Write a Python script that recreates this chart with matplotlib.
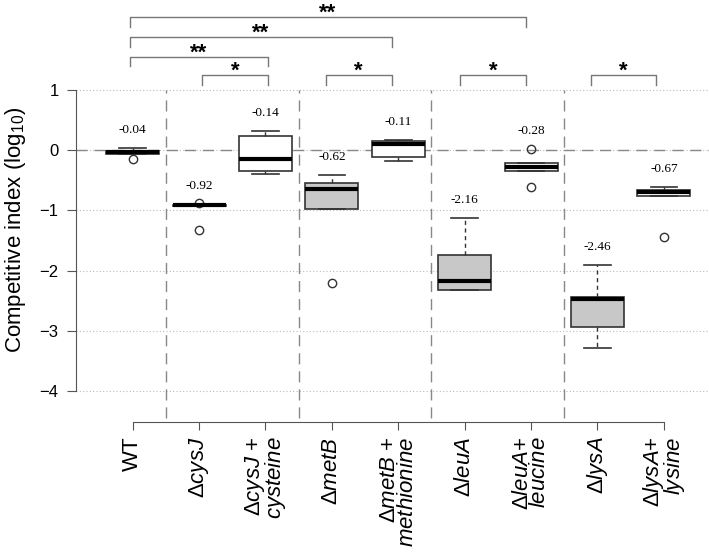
import matplotlib
matplotlib.use("Agg")
import matplotlib.pyplot as plt

plt.rcParams['font.family'] = ['Liberation Sans', 'DejaVu Sans']
plt.rcParams['mathtext.fontset'] = 'custom'
plt.rcParams['mathtext.rm'] = 'Liberation Sans'
plt.rcParams['mathtext.it'] = 'Liberation Sans:italic'
plt.rcParams['mathtext.bf'] = 'Liberation Sans:bold'

# categorias (cepas) y etiquetas del eje x
tick_labels = [
    "WT",
    "Δ$\\mathit{cysJ}$",
    "Δ$\\mathit{cysJ}$ +\n$\\mathit{cysteine}$",
    "Δ$\\mathit{metB}$",
    "Δ$\\mathit{metB}$ +\n$\\mathit{methionine}$",
    "Δ$\\mathit{leuA}$",
    "Δ$\\mathit{leuA}$+\n$\\mathit{leucine}$",
    "Δ$\\mathit{lysA}$",
    "Δ$\\mathit{lysA}$+\n$\\mathit{lysine}$",
]
mutant = [False, True, False, True, False, True, False, True, False]

# estadisticas de cada caja (log10 del indice competitivo)
medians = [-0.04, -0.92, -0.15, -0.64, 0.10, -2.17, -0.28, -2.47, -0.69]
q1 = [-0.07, -0.93, -0.34, -0.97, -0.12, -2.32, -0.35, -2.93, -0.76]
q3 = [-0.01, -0.91, 0.24, -0.54, 0.15, -1.74, -0.21, -2.44, -0.67]
whis_lo = [-0.07, -0.93, -0.39, -0.97, -0.18, -2.32, -0.35, -3.28, -0.76]
whis_hi = [0.04, -0.91, 0.32, -0.41, 0.17, -1.12, -0.21, -1.90, -0.61]
fliers = [[-0.15], [-0.88, -1.33], [], [-2.21], [], [], [0.02, -0.62], [], [-1.45]]
value_labels = ["-0.04", "-0.92", "-0.14", "-0.62", "-0.11", "-2.16", "-0.28", "-2.46", "-0.67"]

# comparaciones significativas: (izquierda, derecha, nivel, estrellas)
brackets = [
    (0.96, 6.92, 2.20, "**"),
    (0.96, 4.90, 1.87, "**"),
    (0.96, 3.04, 1.54, "**"),
    (2.05, 3.04, 1.24, "*"),
    (3.91, 4.90, 1.24, "*"),
    (5.93, 6.92, 1.24, "*"),
    (7.90, 8.88, 1.24, "*"),
]

positions = list(range(1, len(tick_labels) + 1))

fig = plt.figure(figsize=(7.09, 5.53), dpi=100)
ax = fig.add_axes([76 / 709, 1 - 422 / 553, 1 - 76 / 709, (422 - 88.5) / 553])
ax.set_xlim(0.146, 9.68)
ax.set_ylim(-4.51, 1.02)

# lineas de fondo
for yv in [1, 0, -1, -2, -3, -4]:
    ax.axhline(yv, color='#bbbbbb', linestyle=(0, (1, 2)), linewidth=0.8, zorder=0)
ax.axhline(0, color='#888888', linestyle=(0, (8, 5)), linewidth=1, zorder=0)
seps = [(positions[i] + positions[i + 1]) / 2 for i in [0, 2, 4, 6]]
ax.vlines(seps, -4.45, 1.0, colors='#888888', linestyles=[(0, (8, 5))], linewidth=1, zorder=0)

stats = []
for k in range(len(positions)):
    stats.append(dict(med=medians[k], q1=q1[k], q3=q3[k],
                      whislo=whis_lo[k], whishi=whis_hi[k], fliers=fliers[k]))

bp = ax.bxp(stats, positions=positions, widths=0.8, capwidths=0.4,
            patch_artist=True, showfliers=True,
            boxprops=dict(edgecolor='#333333', linewidth=1.2),
            whiskerprops=dict(color='#333333', linestyle=(0, (3, 2.5)), linewidth=1),
            capprops=dict(color='#333333', linewidth=1.2),
            medianprops=dict(color='black', linewidth=3, solid_capstyle='butt'),
            flierprops=dict(marker='o', markerfacecolor='none', markeredgecolor='#333333',
                            markersize=6, markeredgewidth=1))
for patch, m in zip(bp['boxes'], mutant):
    patch.set_facecolor('#c8c8c8' if m else 'white')

# valores sobre cada caja
for k, p in enumerate(positions):
    top = max([whis_hi[k]] + fliers[k])
    ax.text(p, top + 0.29, value_labels[k], ha='center', va='center',
            fontsize=9.5, family='Liberation Serif')

# corchetes de significancia
for xl, xr, yb, stars in brackets:
    ax.plot([xl, xl, xr, xr], [yb - 0.155, yb, yb, yb - 0.155], color='#777777',
            linewidth=1, clip_on=False)
    ax.text((xl + xr) / 2, yb - 0.03, stars, ha='center', va='baseline',
            fontsize=16, fontweight='bold', clip_on=False)

# ejes
for s in ['top', 'right']:
    ax.spines[s].set_visible(False)
ax.spines['left'].set_bounds(-4, 1)
ax.spines['bottom'].set_bounds(1, 9)
for s in ['left', 'bottom']:
    ax.spines[s].set_color('#555555')
ax.set_yticks([1, 0, -1, -2, -3, -4])
ax.set_yticklabels(['1', '0', '−1', '−2', '−3', '−4'])
ax.set_xticks(positions)
ax.set_xticklabels(tick_labels, rotation=90, fontsize=16, linespacing=0.8,
                   multialignment='right')
ax.tick_params(axis='y', length=6.5, pad=6, labelsize=12, color='#555555')
ax.tick_params(axis='x', length=6, pad=4.5, color='#555555')
ax.set_ylabel('Competitive index (log$_{10}$)', fontsize=16, va='center')
ax.yaxis.set_label_coords(-0.096, 0.576)

fig.savefig('out.png', dpi=100)
